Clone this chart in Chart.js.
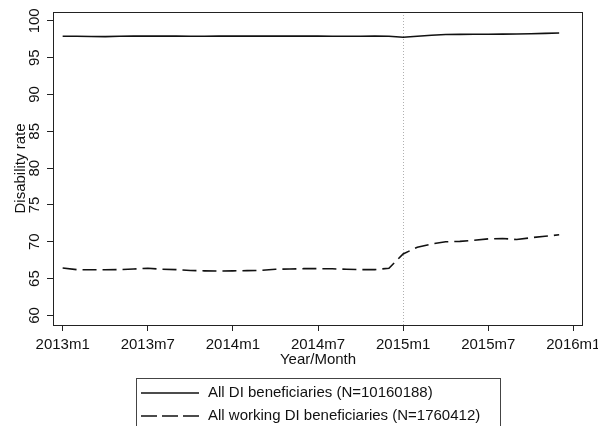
<!DOCTYPE html>
<html>
<head>
<meta charset="utf-8">
<script src="https://cdn.jsdelivr.net/npm/chart.js@4"></script>
<style>
  html, body { margin: 0; padding: 0; background: #fff; }
  #wrap { width: 598px; height: 426px; }
</style>
</head>
<body>
<div id="wrap"><canvas id="graficoTaxa" width="598" height="426"></canvas></div>
<script>
// meses desde 2013m1 (0 = 2013m1, 35 = 2015m12)
const meses = Array.from({ length: 36 }, (_, i) => i);
const todosDI = [97.9, 97.9, 97.88, 97.85, 97.9, 97.92, 97.93, 97.93, 97.92, 97.9, 97.9, 97.92,
                 97.93, 97.93, 97.93, 97.93, 97.92, 97.92, 97.92, 97.9, 97.9, 97.9, 97.92, 97.9,
                 97.78, 97.9, 98.05, 98.15, 98.16, 98.17, 98.18, 98.2, 98.22, 98.25, 98.3, 98.35];
const trabalhandoDI = [66.45, 66.22, 66.2, 66.2, 66.22, 66.3, 66.4, 66.27, 66.22, 66.1, 66.05, 66.02,
                       66.05, 66.08, 66.12, 66.27, 66.3, 66.35, 66.35, 66.33, 66.27, 66.22, 66.22, 66.4,
                       68.35, 69.25, 69.7, 70.0, 70.05, 70.2, 70.4, 70.45, 70.3, 70.55, 70.75, 70.95];
const ticksX = [0, 6, 12, 18, 24, 30, 36];
const rotulosX = ['2013m1', '2013m7', '2014m1', '2014m7', '2015m1', '2015m7', '2016m1'];
const ticksY = [60, 65, 70, 75, 80, 85, 90, 95, 100];
const legendas = ['All DI beneficiaries (N=10160188)', 'All working DI beneficiaries (N=1760412)'];
const mesReforma = 24;

const fonte = { family: "'Liberation Sans', Arial, sans-serif", size: 15 };
const tracos = [[], [14, 6]];

// moldura, linha pontilhada em 2015m1 e legenda desenhada à mão
const extras = {
    id: 'extras',
    beforeDatasetsDraw(chart) {
        const { ctx, chartArea: a, scales } = chart;
        const x = scales.x.getPixelForValue(mesReforma);
        ctx.save();
        ctx.strokeStyle = '#b0b0b0';
        ctx.lineWidth = 1;
        ctx.setLineDash([1, 2]);
        ctx.beginPath();
        ctx.moveTo(Math.round(x) + 0.5, a.top);
        ctx.lineTo(Math.round(x) + 0.5, a.bottom);
        ctx.stroke();
        ctx.restore();
    },
    afterDraw(chart) {
        const { ctx, chartArea: a } = chart;
        ctx.save();
        ctx.strokeStyle = '#222';
        ctx.lineWidth = 1;
        ctx.strokeRect(a.left + 0.5, a.top + 0.5, a.right - a.left - 1, a.bottom - a.top);

        // caixa da legenda
        const bx = 136, by = 378, bw = 364;
        ctx.strokeStyle = '#444';
        ctx.strokeRect(bx + 0.5, by + 0.5, bw, 60);
        ctx.font = `${fonte.size}px ${fonte.family}`;
        ctx.fillStyle = '#111';
        ctx.textBaseline = 'middle';
        legendas.forEach((txt, i) => {
            const y = 393 + i * 23;
            ctx.strokeStyle = '#111';
            ctx.lineWidth = 1.6;
            ctx.setLineDash(i ? [16, 5] : []);
            ctx.beginPath();
            ctx.moveTo(141, y);
            ctx.lineTo(199, y);
            ctx.stroke();
            ctx.setLineDash([]);
            ctx.fillText(txt, 208, y);
        });
        ctx.restore();
    }
};

const ctx = document.getElementById('graficoTaxa');

new Chart(ctx, {
    type: 'line',
    data: {
        datasets: [todosDI, trabalhandoDI].map((serie, i) => ({
            label: legendas[i],
            data: serie.map((v, j) => ({ x: meses[j], y: v })),
            borderColor: '#111',
            borderWidth: 1.6,
            borderDash: tracos[i],
            pointRadius: 0,
            tension: 0,
            fill: false
        }))
    },
    options: {
        responsive: false,
        animation: false,
        layout: { padding: { left: 0, top: 12, right: 15, bottom: 57 } },
        plugins: {
            legend: { display: false },
            tooltip: { enabled: false }
        },
        scales: {
            x: {
                type: 'linear',
                min: -0.68,
                max: 36.68,
                afterBuildTicks: s => { s.ticks = ticksX.map(v => ({ value: v })); },
                afterFit: s => { s.height = 44; s.paddingLeft = 0; s.paddingRight = 0; },
                grid: { drawOnChartArea: false, drawTicks: true, tickLength: 6, color: '#222' },
                border: { display: false },
                ticks: {
                    font: fonte,
                    color: '#111',
                    maxRotation: 0,
                    padding: 5,
                    callback: v => rotulosX[ticksX.indexOf(v)]
                },
                title: { display: true, text: 'Year/Month', font: fonte, color: '#111', padding: 0 }
            },
            y: {
                min: 58.7,
                max: 101.2,
                afterBuildTicks: s => { s.ticks = ticksY.map(v => ({ value: v })); },
                afterFit: s => { s.width = 53; s.paddingTop = 0; s.paddingBottom = 0; },
                grid: { drawOnChartArea: false, drawTicks: true, tickLength: 6, color: '#222' },
                border: { display: false },
                ticks: {
                    font: fonte,
                    color: '#111',
                    minRotation: 90,
                    maxRotation: 90,
                    crossAlign: 'center',
                    padding: 0
                },
                title: { display: true, text: 'Disability rate', font: fonte, color: '#111', padding: { top: 12, bottom: 0 } }
            }
        }
    },
    plugins: [extras]
});
</script>
</body>
</html>
